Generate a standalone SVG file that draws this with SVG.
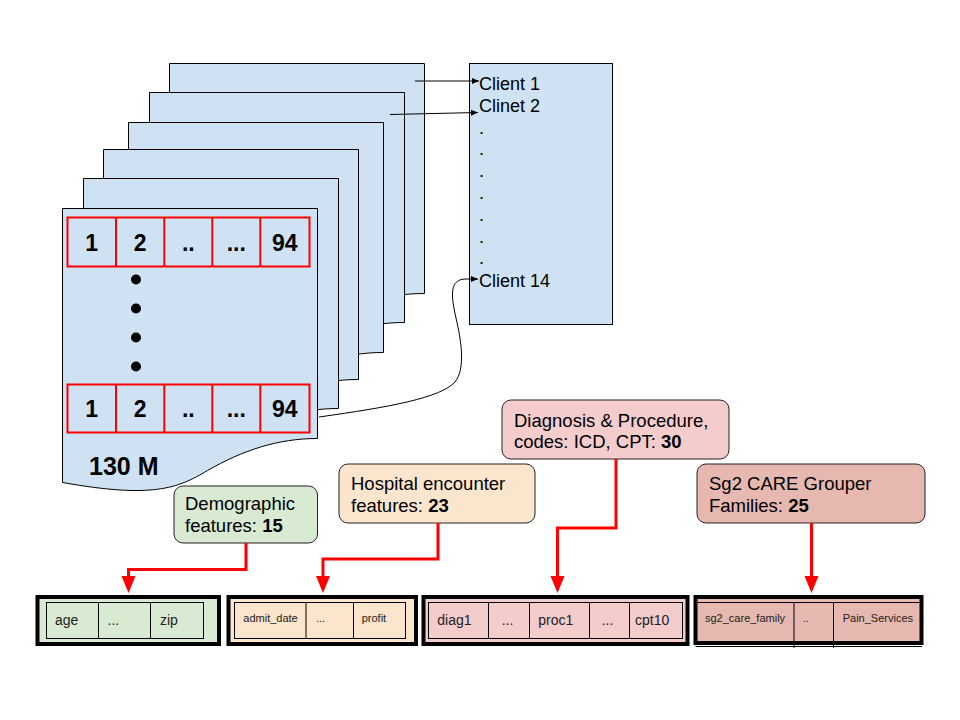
<svg xmlns="http://www.w3.org/2000/svg" width="960" height="720" viewBox="0 0 960 720">
<style>
  .page{fill:#cfe2f3;stroke:#000;stroke-width:1}
  .cell{fill:none;stroke:#ff0000;stroke-width:2}
  .num{font-family:"Liberation Sans",Arial,sans-serif;font-size:23px;font-weight:bold;fill:#000;text-anchor:middle}
  .big{font-family:"Liberation Sans",Arial,sans-serif;font-size:25px;font-weight:bold;fill:#000}
  .cl{font-family:"Liberation Sans",Arial,sans-serif;font-size:18px;fill:#000}
  .lb{font-family:"Liberation Sans",Arial,sans-serif;font-size:18.5px;fill:#000}
  .lbox{stroke:#222;stroke-width:1}
  .outer{stroke:#000;stroke-width:4}
  .inner{fill:none;stroke:#000;stroke-width:1}
  .t14{font-family:"Liberation Sans",Arial,sans-serif;font-size:14px;fill:#222}
  .t11{font-family:"Liberation Sans",Arial,sans-serif;font-size:11px;fill:#222}
  .blk{fill:none;stroke:#000;stroke-width:1}
  .red{fill:none;stroke:#ff0000;stroke-width:3}
</style>
<defs>
  <path id="doc" d="M0,0 H255 V230 C215,230 180,242 145,262 C115,280 90,290 0,274 Z"/>
  <marker id="ab" markerUnits="userSpaceOnUse" markerWidth="8" markerHeight="7" refX="7" refY="3" orient="auto">
    <path d="M0,0 L7,3 L0,6 Z" fill="#000"/>
  </marker>
  <marker id="ar" markerUnits="userSpaceOnUse" markerWidth="18" markerHeight="15" refX="4" refY="7" orient="auto">
    <path d="M0,0 L17,7 L0,14 Z" fill="#ff0000"/>
  </marker>
</defs>
<rect width="960" height="720" fill="#fff"/>

<g id="pages">
  <use href="#doc" class="page" transform="translate(169.5,63.5)"/>
  <use href="#doc" class="page" transform="translate(149.5,92.5)"/>
  <use href="#doc" class="page" transform="translate(128.5,122.5)"/>
  <use href="#doc" class="page" transform="translate(103.5,149.5)"/>
  <use href="#doc" class="page" transform="translate(83.5,178.5)"/>
  <g id="front-page">
    <use href="#doc" class="page" transform="translate(62.5,208.5)"/>
    <g id="row-top">
      <rect class="cell" x="67.5" y="217.5" width="242" height="49"/>
      <path class="cell" d="M116,217.5V266.5M164.3,217.5V266.5M212.3,217.5V266.5M260.3,217.5V266.5"/>
      <text class="num" x="91.7" y="251">1</text>
      <text class="num" x="140.2" y="251">2</text>
      <text class="num" x="188.3" y="251">..</text>
      <text class="num" x="236.3" y="251">...</text>
      <text class="num" x="284.8" y="251">94</text>
    </g>
    <g id="dots" fill="#000">
      <circle cx="136" cy="279.5" r="5"/>
      <circle cx="136" cy="308.5" r="5"/>
      <circle cx="136" cy="337.5" r="5"/>
      <circle cx="136" cy="366.5" r="5"/>
    </g>
    <g id="row-bottom">
      <rect class="cell" x="67.5" y="384.5" width="242" height="48"/>
      <path class="cell" d="M116,384.5V432.5M164.3,384.5V432.5M212.3,384.5V432.5M260.3,384.5V432.5"/>
      <text class="num" x="91.7" y="417">1</text>
      <text class="num" x="140.2" y="417">2</text>
      <text class="num" x="188.3" y="417">..</text>
      <text class="num" x="236.3" y="417">...</text>
      <text class="num" x="284.8" y="417">94</text>
    </g>
    <text class="big" x="89" y="475">130 M</text>
  </g>
</g>

<g id="clients">
  <rect x="469.5" y="63.5" width="143" height="261" fill="#cfe2f3" stroke="#000" stroke-width="1"/>
  <text class="cl" x="479" y="90">Client 1</text>
  <text class="cl" x="479" y="111.8">Clinet 2</text>
  <text class="cl" x="479" y="133.6">.</text>
  <text class="cl" x="479" y="155.4">.</text>
  <text class="cl" x="479" y="177.2">.</text>
  <text class="cl" x="479" y="199">.</text>
  <text class="cl" x="479" y="220.8">.</text>
  <text class="cl" x="479" y="242.6">.</text>
  <text class="cl" x="479" y="264.4">.</text>
  <text class="cl" x="479" y="287">Client 14</text>
</g>

<g id="label-demographic">
  <rect class="lbox" x="174" y="486" width="143.5" height="57" rx="9" fill="#d9ead3"/>
  <text class="lb" x="185" y="510">Demographic</text>
  <text class="lb" x="185" y="532">features: <tspan font-weight="bold">15</tspan></text>
</g>
<g id="label-hospital">
  <rect class="lbox" x="339" y="464" width="196" height="59" rx="9" fill="#fce5cd"/>
  <text class="lb" x="351" y="490">Hospital encounter</text>
  <text class="lb" x="351" y="512">features: <tspan font-weight="bold">23</tspan></text>
</g>
<g id="label-diagnosis">
  <rect class="lbox" x="502" y="400" width="227" height="59" rx="9" fill="#f4cccc"/>
  <text class="lb" x="514" y="427">Diagnosis &amp; Procedure,</text>
  <text class="lb" x="514" y="448">codes: ICD, CPT: <tspan font-weight="bold">30</tspan></text>
</g>
<g id="label-sg2">
  <rect class="lbox" x="697" y="464" width="228" height="59" rx="9" fill="#e6b8af"/>
  <text class="lb" x="709" y="490">Sg2 CARE Grouper</text>
  <text class="lb" x="709" y="512">Families: <tspan font-weight="bold">25</tspan></text>
</g>

<g id="table-demographic">
  <rect class="outer" x="37.5" y="597" width="181.5" height="47" fill="#d9ead3"/>
  <rect class="inner" x="46.5" y="602.5" width="157" height="36"/>
  <path class="inner" d="M98.5,602.5V638.5M150.5,602.5V638.5"/>
  <text class="t14" x="55" y="625">age</text>
  <text class="t14" x="107.5" y="625" fill="#555">...</text>
  <text class="t14" x="160" y="625">zip</text>
</g>
<g id="table-hospital">
  <rect class="outer" x="228.5" y="597" width="187.5" height="47" fill="#fce5cd"/>
  <rect class="inner" x="234.5" y="602.5" width="171" height="36"/>
  <path class="inner" d="M306,602.5V638.5M353.5,602.5V638.5"/>
  <text class="t11" x="243.3" y="622">admit_date</text>
  <text class="t11" x="316" y="622" fill="#555">...</text>
  <text class="t11" x="361.7" y="622">profit</text>
</g>
<g id="table-diagnosis">
  <rect class="outer" x="423.5" y="597" width="264" height="47" fill="#f4cccc"/>
  <rect class="inner" x="428.5" y="602.5" width="254" height="36"/>
  <path class="inner" d="M488.5,602.5V638.5M529.5,602.5V638.5M589.5,602.5V638.5M629.5,602.5V638.5"/>
  <text class="t14" x="437.3" y="625">diag1</text>
  <text class="t14" x="501.7" y="625" fill="#555">...</text>
  <text class="t14" x="538.3" y="625">proc1</text>
  <text class="t14" x="601.7" y="625" fill="#555">...</text>
  <text class="t14" x="635" y="625">cpt10</text>
</g>
<g id="table-sg2">
  <rect class="outer" x="695.5" y="597" width="226" height="46" fill="#e6b8af"/>
  <path class="inner" d="M697,602.5H920M794,602.5V648M833.5,602.5V648M695.5,646.5H922"/>
  <text class="t11" x="705" y="622">sg2_care_family</text>
  <text class="t11" x="802.7" y="622">..</text>
  <text class="t11" x="842.7" y="622">Pain_Services</text>
</g>

<g id="connectors">
  <line class="blk" x1="415" y1="81" x2="479" y2="81" marker-end="url(#ab)"/>
  <line class="blk" x1="390" y1="114.5" x2="478" y2="112.5" marker-end="url(#ab)"/>
  <path class="blk" d="M319,417 C390,407 440,398 455,382 C466,368 461,340 456,318 C451,296 449,279 466,279 L478,279" marker-end="url(#ab)"/>
  <polyline class="red" points="246,543 246,569.5 128.5,569.5 128.5,580" marker-end="url(#ar)"/>
  <polyline class="red" points="438,523 438,559 323,559 323,580" marker-end="url(#ar)"/>
  <polyline class="red" points="616,459 616,528 557.5,528 557.5,580" marker-end="url(#ar)"/>
  <polyline class="red" points="811.5,523 811.5,580" marker-end="url(#ar)"/>
</g>
</svg>
